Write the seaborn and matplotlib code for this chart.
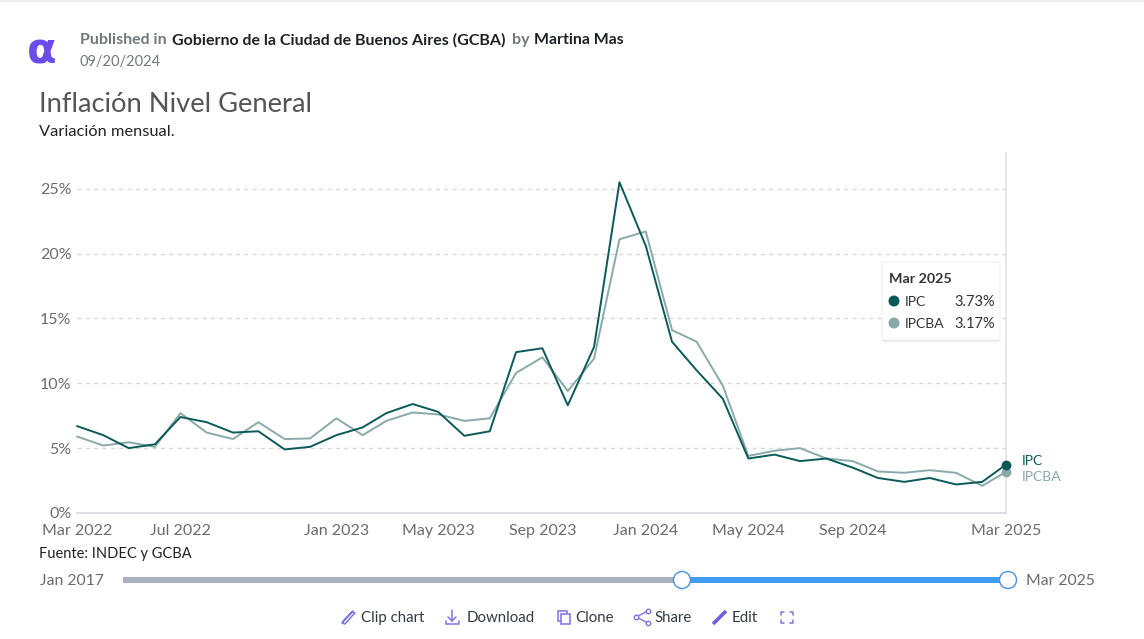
import matplotlib
matplotlib.use("Agg")
import matplotlib.pyplot as plt
import matplotlib.dates as mdates
import numpy as np
import pandas as pd
import seaborn as sns
from matplotlib.patches import Circle, FancyBboxPatch, Rectangle

months = pd.date_range("2022-03-01", "2025-03-01", freq="MS")
ipc = [6.7, 6.0, 5.0, 5.3, 7.4, 7.0, 6.2, 6.3, 4.9, 5.1, 6.0, 6.6,
       7.7, 8.4, 7.8, 5.95, 6.3, 12.4, 12.7, 8.3, 12.8, 25.5, 20.6, 13.2,
       11.0, 8.8, 4.2, 4.5, 4.0, 4.2, 3.5, 2.7, 2.4, 2.7, 2.2, 2.4, 3.73]
ipcba = [5.9, 5.2, 5.45, 5.1, 7.7, 6.2, 5.7, 7.0, 5.7, 5.75, 7.3, 6.0,
         7.1, 7.75, 7.6, 7.1, 7.3, 10.8, 12.0, 9.4, 11.9, 21.1, 21.7, 14.1,
         13.2, 9.8, 4.4, 4.8, 5.0, 4.2, 4.0, 3.2, 3.1, 3.3, 3.1, 2.1, 3.17]
y_ticks = [0, 5, 10, 15, 20, 25]
y_labels = ["0%", "5%", "10%", "15%", "20%", "25%"]
x_ticks = ["2022-03-01", "2022-07-01", "2023-01-01", "2023-05-01", "2023-09-01",
           "2024-01-01", "2024-05-01", "2024-09-01", "2025-03-01"]
x_labels = ["Mar 2022", "Jul 2022", "Jan 2023", "May 2023", "Sep 2023",
            "Jan 2024", "May 2024", "Sep 2024", "Mar 2025"]

IPC_COLOR = "#0b5a58"
IPCBA_COLOR = "#8aa9a8"
W, H = 1144, 639

sns.set_theme(style="white")
plt.rcParams["font.family"] = ["Lato", "DejaVu Sans"]

df = pd.DataFrame({"fecha": months, "IPC": ipc, "IPCBA": ipcba})
long_df = df.melt("fecha", var_name="serie", value_name="valor")

fig = plt.figure(figsize=(W / 100, H / 100), dpi=100, facecolor="white")

# overlay in pixel coordinates for everything around the chart
page = fig.add_axes([0, 0, 1, 1], zorder=0)
page.set_xlim(0, W)
page.set_ylim(H, 0)
page.axis("off")

ax = fig.add_axes([77 / W, 1 - 513 / H, (1006 - 77) / W, (513 - 153) / H], zorder=1)
ax.patch.set_alpha(0)
sns.lineplot(data=long_df, x="fecha", y="valor", hue="serie", hue_order=["IPCBA", "IPC"],
             palette={"IPC": IPC_COLOR, "IPCBA": IPCBA_COLOR}, linewidth=1.4,
             legend=False, ax=ax, clip_on=False, zorder=3)
ax.scatter(months[-1], ipcba[-1], s=50, color=IPCBA_COLOR, zorder=4, clip_on=False, linewidths=0)
ax.scatter(months[-1], ipc[-1], s=50, color=IPC_COLOR, zorder=5, clip_on=False, linewidths=0)

ax.set_xlim(months[0], months[-1])
ax.set_ylim(0, 27.75)
ax.set_xlabel("")
ax.set_ylabel("")
ax.set_yticks(y_ticks)
ax.set_yticklabels(y_labels, fontsize=11.5, color="#6b6b6b")
ax.set_xticks(mdates.date2num(pd.to_datetime(x_ticks)))
ax.set_xticklabels(x_labels, fontsize=11.5, color="#6b6b6b")
ax.tick_params(axis="x", length=4, width=1, color="#d5d8dc", pad=4)
ax.tick_params(axis="y", length=0, pad=4)
ax.grid(axis="y", color="#d8d8d8", linestyle=(0, (3, 3)), linewidth=1)
ax.set_axisbelow(True)
for side in ["top", "left"]:
    ax.spines[side].set_visible(False)
ax.spines["right"].set_color("#e4e4e4")
ax.spines["bottom"].set_color("#d5d8dc")
ax.spines["bottom"].set_linewidth(1.2)
ax.spines["right"].set_linewidth(1.2)

# top border of the page
page.add_patch(Rectangle((0, 0), W, 1.5, color="#ececec", lw=0))

# header
page.text(42, 51, "α", fontsize=31, color="#6a4de8", fontweight="bold",
          family="DejaVu Sans", ha="center", va="center")
GREY = "#74787c"
DARK = "#1f2226"
page.text(80, 40, "Published in", fontsize=11.5, color=GREY, fontweight="bold", va="center")
page.text(172, 40, "Gobierno de la Ciudad de Buenos Aires (GCBA)", fontsize=11.5,
          color=DARK, fontweight="bold", va="center")
page.text(512, 40, "by", fontsize=11.5, color=GREY, fontweight="bold", va="center")
page.text(534, 40, "Martina Mas", fontsize=11.4, color=DARK, fontweight="bold", va="center")
page.text(80, 62, "09/20/2024", fontsize=10.5, color=GREY, va="center")
page.text(39, 105, "Inflación Nivel General", fontsize=19.7, color="#555555", va="center")
page.text(39, 132, "Variación mensual.", fontsize=11.8, color="#222222", va="center")
page.text(39, 554, "Fuente: INDEC y GCBA", fontsize=10.5, color="#222222", va="center")

# end labels
page.text(1022, 461, "IPC", fontsize=10, color=IPC_COLOR, va="center")
page.text(1022, 477, "IPCBA", fontsize=10, color=IPCBA_COLOR, va="center")

# tooltip, above the chart axes
tip = fig.add_axes([0, 0, 1, 1], zorder=2)
tip.set_xlim(0, W)
tip.set_ylim(H, 0)
tip.axis("off")
tip.add_patch(FancyBboxPatch((882, 263), 118, 79, boxstyle="round,pad=0,rounding_size=2",
                             fc="#dddddd", ec="none", alpha=0.6))
tip.add_patch(FancyBboxPatch((882, 262), 118, 78, boxstyle="round,pad=0,rounding_size=2",
                             fc="white", ec="#efefef", lw=0.8))
tip.text(889, 279, "Mar 2025", fontsize=10.3, fontweight="bold", color="#333333", va="center")
tip.add_patch(Circle((894, 301), 5.5, fc=IPC_COLOR, ec="none"))
tip.add_patch(Circle((894, 323), 5.5, fc=IPCBA_COLOR, ec="none"))
tip.text(905, 302, "IPC", fontsize=10, color="#333333", va="center")
tip.text(905, 324, "IPCBA", fontsize=10, color="#333333", va="center")
tip.text(995, 302, "3.73%", fontsize=10.5, color="#333333", va="center", ha="right")
tip.text(995, 324, "3.17%", fontsize=10.5, color="#333333", va="center", ha="right")

# range slider
page.text(40, 581, "Jan 2017", fontsize=11.3, color="#6b6b6b", va="center")
page.text(1026, 581, "Mar 2025", fontsize=11.3, color="#6b6b6b", va="center")
page.add_patch(Rectangle((123, 577), 559, 5.5, fc="#a9b2bc", lw=0))
page.add_patch(Rectangle((682, 576.5), 326, 6.5, fc="#409cf5", lw=0))
for cx in [682, 1008]:
    page.add_patch(Circle((cx, 580), 8.5, fc="white", ec="#4a90d9", lw=1, zorder=3))

# action bar
ACTION = "#333a42"
ICON = "#7b74e0"
for x_txt, label in [(361, "Clip chart"), (467, "Download"), (575, "Clone"), (654, "Share"), (732, "Edit")]:
    page.text(x_txt, 618, label, fontsize=10.8, color=ACTION, va="center")

# clip icon
page.plot([343, 352, 355, 352, 345, 342, 344, 353], [622, 612, 613, 616, 624, 623, 620, 611],
          color=ICON, lw=1.1)
# download icon
page.plot([452, 452], [610, 621], color=ICON, lw=1.1)
page.plot([448, 452, 456], [617, 621, 617], color=ICON, lw=1.1)
page.plot([446, 446, 459, 459], [621, 624, 624, 621], color=ICON, lw=1.1)
# clone icon
page.add_patch(Rectangle((558, 611), 9, 10, fc="none", ec=ICON, lw=1.1))
page.add_patch(Rectangle((561, 614), 9, 10, fc="white", ec=ICON, lw=1.1))
# share icon
page.plot([648, 636, 648], [611, 617, 623], color=ICON, lw=1, marker="o", ms=3.2,
          mfc="white", mec=ICON)
# edit icon
page.plot([713, 726], [624, 611], color="#6a5fe0", lw=2.6, solid_capstyle="butt")
# expand icon
for sx, sy in [(781, 612), (793, 612), (781, 623), (793, 623)]:
    dx = 3 if sx == 781 else -3
    dy = 3 if sy == 612 else -3
    page.plot([sx + dx, sx, sx], [sy, sy, sy + dy], color=ICON, lw=1.1)

fig.savefig("out.png", dpi=100, facecolor="white")
